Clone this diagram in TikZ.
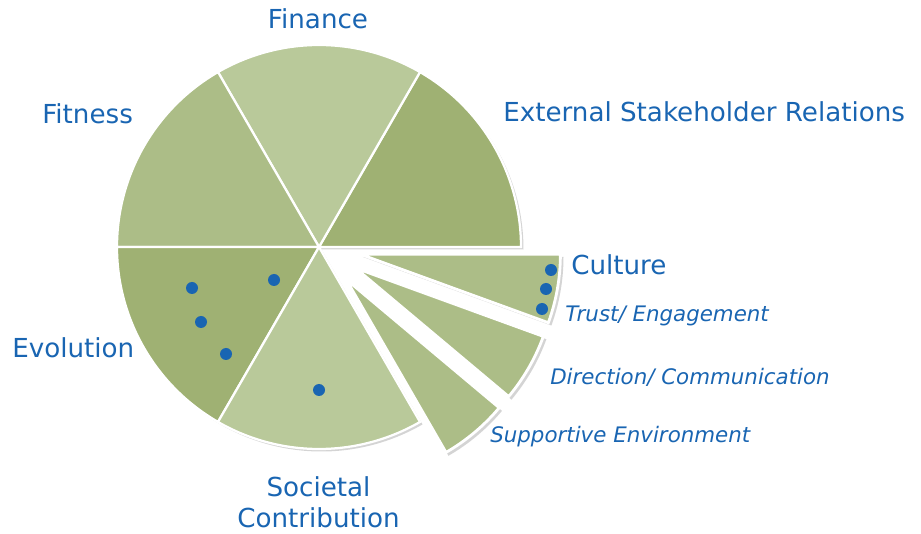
\documentclass[tikz,border=0pt]{standalone}
\usepackage{fontspec}
\setmainfont{DejaVu Sans}
\definecolor{darkleaf}{RGB}{159,177,115}
\definecolor{paleleaf}{RGB}{185,201,154}
\definecolor{midleaf}{RGB}{172,189,135}
\definecolor{labelblue}{RGB}{25,101,178}
\begin{document}
\begin{tikzpicture}[x=0.025cm, y=0.025cm]
		\tikzstyle{slice}=[draw=white, line width=1.6pt, line join=miter]
		\tikzstyle{cutslice}=[slice, line width=2pt]
		\tikzstyle{shade}=[fill=black!60, opacity=0.28]
		\tikzstyle{piename}=[text=labelblue, inner sep=0pt, font=\fontsize{18.6pt}{22pt}\selectfont]
		\tikzstyle{subname}=[piename, font=\fontsize{15.2pt}{18pt}\selectfont\itshape]
		\tikzstyle{dotmark}=[fill=labelblue]
		\useasboundingbox (0,0) rectangle (921,533);
		
		% shadows
		\fill [shade] (321.5,283.5) -- ++(0:202) arc[start angle=0, end angle=300, radius=202] -- cycle;
		\fill [shade] (362.5,276.2) -- ++(-20:201) arc[start angle=-20, end angle=0, radius=201] -- cycle;
		\fill [shade] (357.5,262.5) -- ++(-40:201) arc[start angle=-40, end angle=-20, radius=201] -- cycle;
		\fill [shade] (348,251.3) -- ++(-60:201) arc[start angle=-60, end angle=-40, radius=201] -- cycle;
		
		% main pie
		\draw [slice, fill=darkleaf] (319,286) -- ++(0:202) arc[start angle=0, end angle=60, radius=202] -- cycle;
		\draw [slice, fill=paleleaf] (319,286) -- ++(60:202) arc[start angle=60, end angle=120, radius=202] -- cycle;
		\draw [slice, fill=midleaf] (319,286) -- ++(120:202) arc[start angle=120, end angle=180, radius=202] -- cycle;
		\draw [slice, fill=darkleaf] (319,286) -- ++(180:202) arc[start angle=180, end angle=240, radius=202] -- cycle;
		\draw [slice, fill=paleleaf] (319,286) -- ++(240:202) arc[start angle=240, end angle=300, radius=202] -- cycle;
		
		% pulled out part
		\draw [cutslice, fill=midleaf] (360.4,278.7) -- ++(-20:200) arc[start angle=-20, end angle=0, radius=200] -- cycle;
		\draw [cutslice, fill=midleaf] (355.4,265) -- ++(-40:200) arc[start angle=-40, end angle=-20, radius=200] -- cycle;
		\draw [cutslice, fill=midleaf] (346,253.8) -- ++(-60:200) arc[start angle=-60, end angle=-40, radius=200] -- cycle;
		
		% dots
		\fill [dotmark] (192,245) circle (6);
		\fill [dotmark] (274,253) circle (6);
		\fill [dotmark] (201,211) circle (6);
		\fill [dotmark] (226,179) circle (6);
		\fill [dotmark] (319,143) circle (6);
		\fill [dotmark] (551,263) circle (6);
		\fill [dotmark] (546,244) circle (6);
		\fill [dotmark] (542,224) circle (6);
		
		\node [piename, anchor=base] (finance) at (318,504) {Finance};
		\node [piename, anchor=base west] (fitness) at (42,409) {Fitness};
		\node [piename, anchor=base west] (external) at (503,411) {External Stakeholder Relations};
		\node [piename, anchor=base west] (evolution) at (12,175) {Evolution};
		\node [piename, anchor=base] (societal) at (318.5,36) {Societal};
		\node [piename, anchor=base] (contribution) at (318.5,6) {Contribution};
		\node [piename, anchor=base west] (culture) at (571,258) {Culture};
		\node [subname, anchor=base west] (trust) at (565,211) {Trust/ Engagement};
		\node [subname, anchor=base west] (direction) at (550,148) {Direction/ Communication};
		\node [subname, anchor=base west] (supportive) at (490,90) {Supportive Environment};
	\end{tikzpicture}
\end{document}
